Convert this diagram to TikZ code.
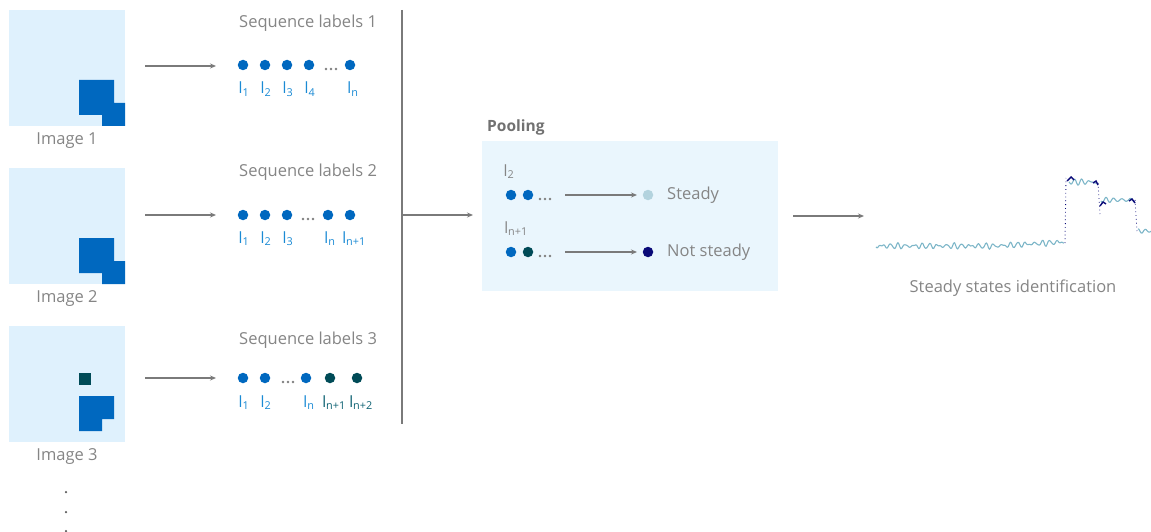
\documentclass[tikz,border=0pt]{standalone}
\usepackage{fontspec}
\setmainfont{Open Sans}
\usetikzlibrary{arrows.meta}
\definecolor{imgbg}{HTML}{DFF1FD}
\definecolor{poolbg}{HTML}{EAF6FD}
\definecolor{dblue}{HTML}{0068BF}
\definecolor{lblue}{HTML}{1A8AD4}
\definecolor{dteal}{HTML}{004B57}
\definecolor{tealtxt}{HTML}{0E6273}
\definecolor{txtgray}{HTML}{858585}
\definecolor{arrgray}{HTML}{7A7A7A}
\definecolor{ellc}{HTML}{7E7E7E}
\definecolor{steadyc}{HTML}{B3D3DE}
\definecolor{navyc}{HTML}{0A0A78}
\definecolor{chartc}{HTML}{7DB6C8}
\tikzset{
  captxt/.style={text=txtgray, font=\fontsize{16.5}{19}\selectfont, inner sep=0pt},
  lab/.style={text=lblue, font=\fontsize{15.5}{18}\selectfont, inner sep=0pt, anchor=base},
  flow/.style={draw=arrgray, line width=1.2pt, -{Stealth[length=6pt,width=5pt]}},
  bdot/.style={circle, fill=dblue, minimum size=10.5pt, inner sep=0pt},
  tdot/.style={circle, fill=dteal, minimum size=10.5pt, inner sep=0pt},
  ell/.style={circle, fill=#1, minimum size=2.8pt, inner sep=0pt},
  ell/.default=ellc,
  chartline/.style={draw=chartc, line width=1.1pt, line join=round},
}
\begin{document}
\begin{tikzpicture}[x=1pt,y=-1pt]
\useasboundingbox (0,0) rectangle (1151,532);
% ---------- images ----------
\fill[imgbg] (9,10) rectangle (125,126);
\fill[dblue] (79,80) -- (114,80) -- (114,103) -- (125,103) -- (125,126) -- (102,126) -- (102,115) -- (79,115) -- cycle;
\node[captxt] (img1) at (67,141) {Image 1};
\fill[imgbg] (9,168) rectangle (125,284);
\fill[dblue] (79,238) -- (114,238) -- (114,261) -- (125,261) -- (125,284) -- (102,284) -- (102,273) -- (79,273) -- cycle;
\node[captxt] (img2) at (67,299) {Image 2};
\fill[imgbg] (9,326) rectangle (125,442);
\fill[dteal] (79,373) rectangle (91,385);
\fill[dblue] (79,396) -- (114,396) -- (114,419) -- (102,419) -- (102,431) -- (79,431) -- cycle;
\node[captxt] (img3) at (67,457) {Image 3};
\node[ell=txtgray!70!black, minimum size=2.5pt] (v1) at (66,492) {};
\node[ell=txtgray!70!black, minimum size=2.5pt] (v2) at (66,512) {};
\node[ell=txtgray!70!black, minimum size=2.5pt] (v3) at (66,531) {};
% ---------- arrows image -> labels ----------
\coordinate (a1s) at (145,66); \coordinate (a1e) at (216,66);
\coordinate (a2s) at (145,215); \coordinate (a2e) at (216,215);
\coordinate (a3s) at (145,378); \coordinate (a3e) at (216,378);
\draw[flow] (a1s) -- (a1e);
\draw[flow] (a2s) -- (a2e);
\draw[flow] (a3s) -- (a3e);
% ---------- sequence 1 ----------
\node[captxt, anchor=west] (s1) at (239,23) {Sequence labels 1};
\node[bdot] (r1a) at (243,65) {};
\node[bdot] (r1b) at (265,65) {};
\node[bdot] (r1c) at (287,65) {};
\node[bdot] (r1d) at (309,65) {};
\node[ell] (r1e1) at (326,69) {};
\node[ell] (r1e2) at (331,69) {};
\node[ell] (r1e3) at (336,69) {};
\node[bdot] (r1f) at (350,65) {};
\node[lab] (l1a) at (244,94) {l\textsubscript{1}};
\node[lab] (l1b) at (266,94) {l\textsubscript{2}};
\node[lab] (l1c) at (288,94) {l\textsubscript{3}};
\node[lab] (l1d) at (310,94) {l\textsubscript{4}};
\node[lab] (l1f) at (353,94) {l\textsubscript{n}};
% ---------- sequence 2 ----------
\node[captxt, anchor=west] (s2) at (239,172) {Sequence labels 2};
\node[bdot] (r2a) at (243,215) {};
\node[bdot] (r2b) at (265,215) {};
\node[bdot] (r2c) at (287,215) {};
\node[ell] (r2e1) at (303,219) {};
\node[ell] (r2e2) at (308,219) {};
\node[ell] (r2e3) at (313,219) {};
\node[bdot] (r2d) at (328,215) {};
\node[bdot] (r2f) at (350,215) {};
\node[lab] (l2a) at (244,243) {l\textsubscript{1}};
\node[lab] (l2b) at (266,243) {l\textsubscript{2}};
\node[lab] (l2c) at (288,243) {l\textsubscript{3}};
\node[lab] (l2d) at (330,243) {l\textsubscript{n}};
\node[lab] (l2f) at (354,243) {l\textsubscript{n+1}};
% ---------- sequence 3 ----------
\node[captxt, anchor=west] (s3) at (239,340) {Sequence labels 3};
\node[bdot] (r3a) at (243,378) {};
\node[bdot] (r3b) at (265,378) {};
\node[ell] (r3e1) at (283,382) {};
\node[ell] (r3e2) at (288,382) {};
\node[ell] (r3e3) at (293,382) {};
\node[bdot] (r3c) at (306,378) {};
\node[tdot] (r3d) at (330,378) {};
\node[tdot] (r3f) at (357,378) {};
\node[lab] (l3a) at (244,407) {l\textsubscript{1}};
\node[lab] (l3b) at (266,407) {l\textsubscript{2}};
\node[lab] (l3c) at (309,407) {l\textsubscript{n}};
\node[lab, text=tealtxt] (l3d) at (334,407) {l\textsubscript{n+1}};
\node[lab, text=tealtxt] (l3f) at (361,407) {l\textsubscript{n+2}};
% ---------- bar and arrow to pooling ----------
\coordinate (bart) at (402,10);
\coordinate (barb) at (402,424);
\draw[draw=arrgray, line width=1.2pt] (bart) -- (barb);
\coordinate (bm) at (402,215);
% ---------- pooling ----------
\node[fill=poolbg, minimum width=296pt, minimum height=150pt, inner sep=0pt, anchor=north west] (pool) at (482,141) {};
\coordinate (pin) at (473,215);
\draw[flow] (bm) -- (pin);
\node[text=txtgray!85!black, font=\fontsize{15.5}{18}\selectfont\bfseries, anchor=west, inner sep=0pt] (ptitle) at (487,127) {Pooling};
\node[lab, text=txtgray] (pl2) at (509,176) {l\textsubscript{2}};
\node[bdot] (p1a) at (511,195) {};
\node[bdot] (p1b) at (528,195) {};
\node[ell] (p1e1) at (540,199) {};
\node[ell] (p1e2) at (545,199) {};
\node[ell] (p1e3) at (550,199) {};
\coordinate (p1s) at (565,195); \coordinate (p1t) at (637,195);
\draw[flow] (p1s) -- (p1t);
\node[circle, fill=steadyc, minimum size=10.5pt, inner sep=0pt] (p1r) at (648,195) {};
\node[captxt, anchor=west] (steady) at (667,195) {Steady};
\node[lab, text=txtgray] (pln) at (516,233) {l\textsubscript{n+1}};
\node[bdot] (p2a) at (511,252) {};
\node[tdot] (p2b) at (528,252) {};
\node[ell] (p2e1) at (540,256) {};
\node[ell] (p2e2) at (545,256) {};
\node[ell] (p2e3) at (550,256) {};
\coordinate (p2s) at (565,252); \coordinate (p2t) at (637,252);
\draw[flow] (p2s) -- (p2t);
\node[circle, fill=navyc, minimum size=10.5pt, inner sep=0pt] (p2r) at (648,252) {};
\node[captxt, anchor=west] (nsteady) at (667,252) {Not steady};
% ---------- to chart ----------
\coordinate (cs) at (793,216); \coordinate (ce) at (864,216);
\draw[flow] (cs) -- (ce);
% ---------- chart ----------
\begin{scope}[shift={(876,0)}]
\draw[chartline] plot[domain=0:188,samples=190] (\x,{246-max(0,\x-120)*0.06+1.8*sin(\x*45)+1.1*cos(\x*57+30)+0.6*sin(\x*77)});
\draw[chartline] plot[domain=193:221,samples=30] (\x,{182+1.8*sin(\x*45)+1*cos(\x*57)+0.5*sin(\x*61)});
\draw[chartline] plot[domain=225:258,samples=34] (\x,{200+1.8*sin(\x*45)+1*cos(\x*57)+0.5*sin(\x*61)});
\draw[chartline] plot[domain=262:275,samples=14] (\x,{231+1.5*sin(\x*45)+0.8*cos(\x*57)});
\end{scope}
\draw[navyc, line width=0.9pt, dash pattern=on 0.8pt off 3pt] (1065,243) -- (1066,178);
\draw[navyc, line width=0.9pt, dash pattern=on 0.8pt off 3pt] (1098,183) -- (1100,214);
\draw[navyc, line width=0.9pt, dash pattern=on 0.8pt off 3pt] (1135,200) -- (1137,231);
\draw[navyc, line width=1.4pt] (1067,181) -- (1071,177) -- (1074,180);
\draw[navyc, line width=1.4pt] (1093,183) -- (1096,181) -- (1098,185);
\draw[navyc, line width=1.4pt] (1100,206) -- (1103,202) -- (1106,204);
\draw[navyc, line width=1.4pt] (1129,201) -- (1132,199) -- (1135,203);
\node[captxt] (ctitle) at (1013,288) {Steady states identification};
\end{tikzpicture}
\end{document}
